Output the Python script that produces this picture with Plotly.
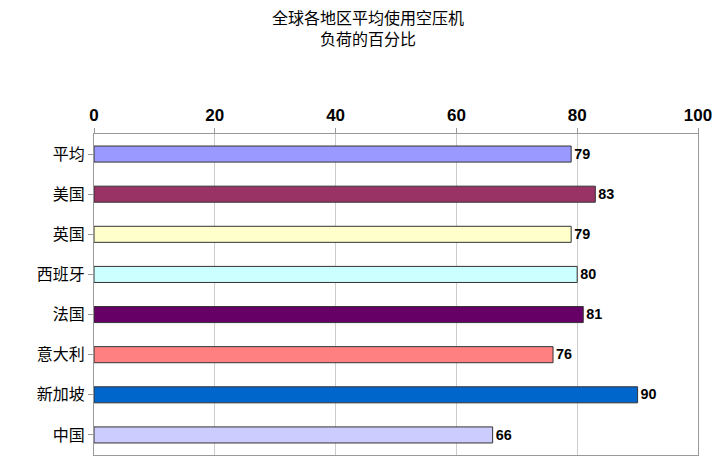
import plotly.graph_objects as go

categories = ["平均", "美国", "英国", "西班牙", "法国", "意大利", "新加坡", "中国"]
values = [79, 83, 79, 80, 81, 76, 90, 66]
colors = ["#9999FF", "#993366", "#FFFFCC", "#CCFFFF", "#660066", "#FF8080", "#0066CC", "#CCCCFF"]

fig = go.Figure(go.Bar(
    y=categories, x=values, orientation="h",
    marker=dict(color=colors, line=dict(color="#333333", width=1)),
    text=["<b>%d</b>" % v for v in values], textposition="outside",
    textfont=dict(family="Liberation Sans", size=17, color="black"),
    cliponaxis=False, width=0.4,
))
fig.update_layout(
    width=720, height=463,
    margin=dict(l=86, r=30, t=126, b=16),
    paper_bgcolor="white", plot_bgcolor="white",
    title=dict(text="全球各地区平均使用空压机<br>负荷的百分比", x=0.5, xanchor="center", y=0.965, yanchor="top",
               font=dict(family="Noto Sans CJK SC", size=16, color="black")),
    showlegend=False,
    xaxis=dict(range=[0, 100], side="top", dtick=20, showgrid=True, gridcolor="#CCCCCC",
               tickfont=dict(family="Liberation Sans", size=17, color="black", weight="bold"),
               showline=True, linecolor="#999999", mirror=True, zeroline=False, automargin=False,
               ticks="outside", ticklen=5, tickcolor="#999999"),
    yaxis=dict(autorange="reversed", tickfont=dict(family="Noto Sans CJK SC", size=16, color="black"),
               showline=True, linecolor="#999999", mirror=True, automargin=False,
               ticks="outside", ticklen=5, tickcolor="#999999"),
)
fig.write_html("out.html")
